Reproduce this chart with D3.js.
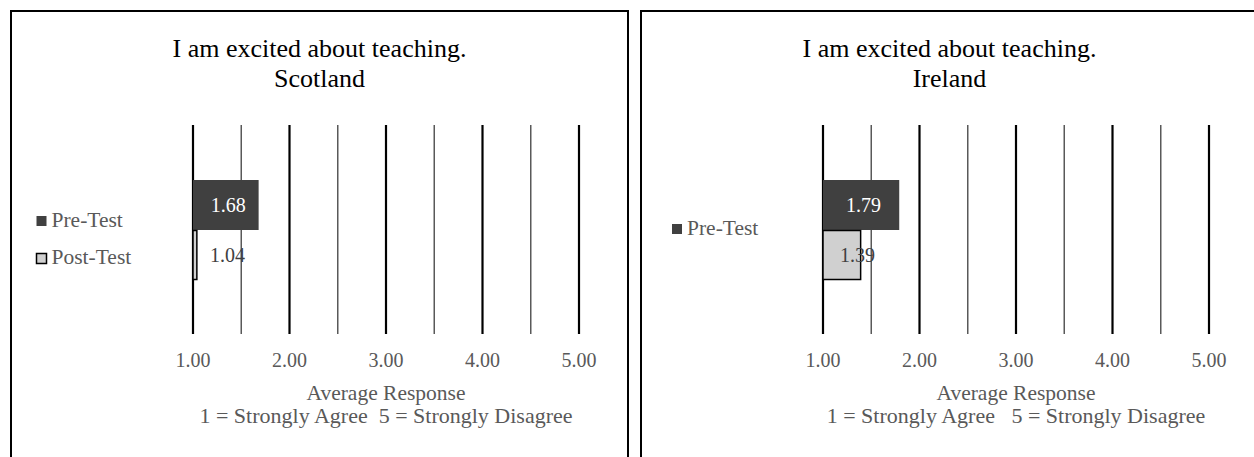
<!DOCTYPE html>
<html>
<head>
<meta charset="utf-8">
<script src="https://cdn.jsdelivr.net/npm/d3@7"></script>
<style>
  html, body { margin: 0; padding: 0; background: #fff; }
  svg { display: block; }
  text { font-family: "Liberation Serif", "Times New Roman", serif; white-space: pre; }
</style>
</head>
<body>
<svg id="chart" width="1254" height="457"></svg>
<script>
// ---- data ----
const titleText = "I am excited about teaching.";
const regions = ["Scotland", "Ireland"];
const seriesNames = ["Pre-Test", "Post-Test"];
const scotlandValues = [1.68, 1.04];
const irelandValues = [1.79, 1.39];
const majorTicks = [1, 2, 3, 4, 5];
const minorTicks = [1.5, 2.5, 3.5, 4.5];
const tickLabels = ["1.00", "2.00", "3.00", "4.00", "5.00"];
const scotlandLegend = ["Pre-Test", "Post-Test"];
const irelandLegend = ["Pre-Test"];
const axisTitle = "Average Response";
const scotlandNote = "1 = Strongly Agree  5 = Strongly Disagree";
const irelandNote = "1 = Strongly Agree   5 = Strongly Disagree";

const colors = { "Pre-Test": "#404040", "Post-Test": "#d0d0d0" };

const svg = d3.select("#chart");

function drawPanel(ox, region, values, legendItems, note, legendLayout) {
  const g = svg.append("g").attr("transform", `translate(${ox},10)`);
  // border
  g.append("rect").attr("x", 1).attr("y", 1).attr("width", 617).attr("height", 520)
    .attr("fill", "#fff").attr("stroke", "#000").attr("stroke-width", 2);

  // title
  g.append("text").attr("x", 309.5).attr("y", 46.5).attr("text-anchor", "middle")
    .attr("font-size", 26).attr("fill", "#000").text(titleText);
  g.append("text").attr("x", 309.5).attr("y", 77).attr("text-anchor", "middle")
    .attr("font-size", 26).attr("fill", "#000").text(region);

  const x = d3.scaleLinear().domain([1, 5]).range([183, 569]);
  const y = d3.scaleBand().domain(seriesNames).range([170, 270]).padding(0);
  const gTop = 115, gBottom = 324;

  // gridlines
  g.append("g").selectAll("line.minor").data(minorTicks).join("line")
    .attr("x1", d => x(d)).attr("x2", d => x(d)).attr("y1", gTop).attr("y2", gBottom)
    .attr("stroke", "#595959").attr("stroke-width", 1.5);
  g.append("g").selectAll("line.major").data(majorTicks).join("line")
    .attr("x1", d => x(d)).attr("x2", d => x(d)).attr("y1", gTop).attr("y2", gBottom)
    .attr("stroke", "#000").attr("stroke-width", 2.2);

  // bars
  const data = seriesNames.map((s, i) => ({ s, v: values[i] }));
  g.append("g").selectAll("rect").data(data).join("rect")
    .attr("x", x(1))
    .attr("y", d => y(d.s) + (d.s === "Post-Test" ? 0.5 : 0))
    .attr("width", d => x(d.v) - x(1))
    .attr("height", d => y.bandwidth() - (d.s === "Post-Test" ? 1 : 0))
    .attr("fill", d => colors[d.s])
    .attr("stroke", d => d.s === "Post-Test" ? "#000" : "none")
    .attr("stroke-width", 1.5);

  // labels
  g.append("g").selectAll("text").data(data).join("text")
    .attr("x", d => Math.max((x(1) + x(d.v)) / 2 + 2.5, x(1) + 34.5))
    .attr("y", d => y(d.s) + y.bandwidth() / 2 + 7)
    .attr("text-anchor", "middle").attr("font-size", 20)
    .attr("fill", d => d.s === "Pre-Test" ? "#fff" : "#404040")
    .text(d => d.v.toFixed(2));

  // tick labels
  g.append("g").selectAll("text").data(majorTicks).join("text")
    .attr("x", d => x(d)).attr("y", 357).attr("text-anchor", "middle")
    .attr("font-size", 20).attr("fill", "#595959")
    .text((d, i) => tickLabels[i]);

  // axis title
  const cx = (x(1) + x(5)) / 2;
  g.append("text").attr("x", cx).attr("y", 389.5).attr("text-anchor", "middle")
    .attr("font-size", 21.5).attr("fill", "#595959").text(axisTitle);
  g.append("text").attr("x", cx).attr("y", 413).attr("text-anchor", "middle")
    .attr("font-size", 22).attr("fill", "#595959").text(note);

  // legend
  legendItems.forEach((s, i) => {
    const ly = legendLayout.y + i * legendLayout.step;
    g.append("rect").attr("x", legendLayout.x).attr("y", ly - 10.5)
      .attr("width", 10).attr("height", 10)
      .attr("fill", colors[s])
      .attr("stroke", s === "Post-Test" ? "#000" : "none").attr("stroke-width", 1.5);
    g.append("text").attr("x", legendLayout.x + 15).attr("y", ly)
      .attr("font-size", 21.5).attr("fill", "#595959").text(s);
  });
}

drawPanel(10, regions[0], scotlandValues, scotlandLegend, scotlandNote, { x: 26.5, y: 216.5, step: 37.5 });
drawPanel(640, regions[1], irelandValues, irelandLegend, irelandNote, { x: 32, y: 224.5, step: 37.5 });
</script>
</body>
</html>
